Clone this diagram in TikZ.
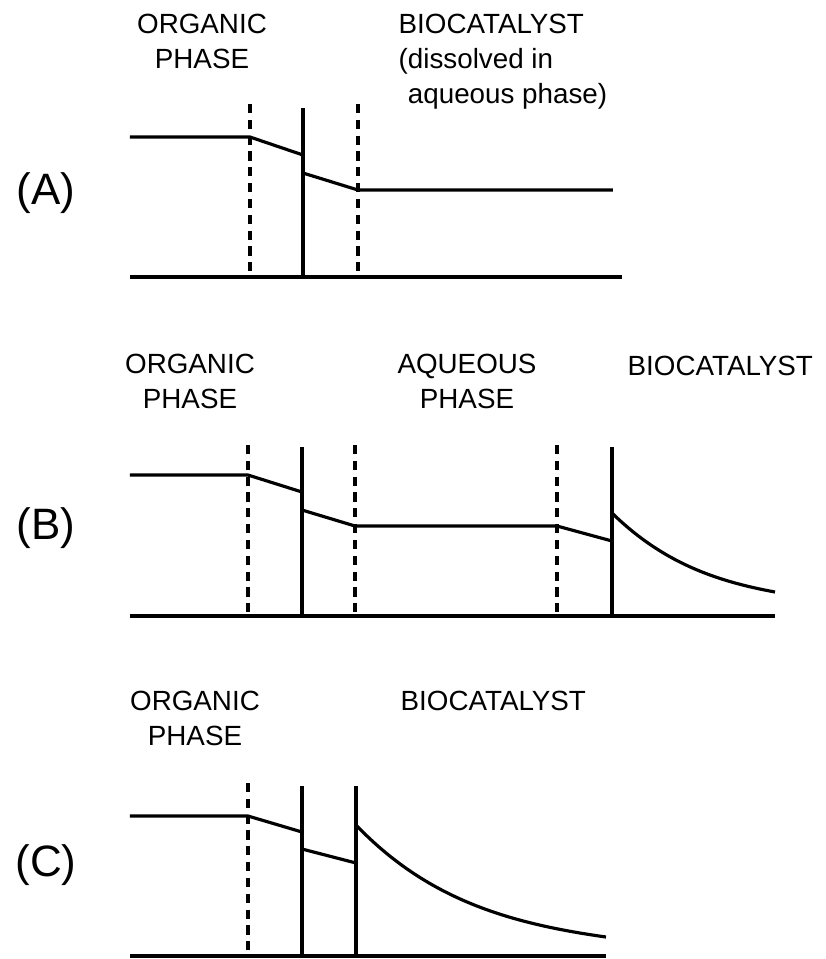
\documentclass[tikz,border=0pt]{standalone}
\usepackage{fontspec}
\setmainfont{Liberation Sans}

\begin{document}
\begin{tikzpicture}[
  x=0.01cm,
  y=-0.01cm,
  phase/.style={font=\fontsize{7.9}{10}\selectfont, inner sep=0pt},
  tag/.style={font=\fontsize{12.5}{15}\selectfont, inner sep=0pt},
  iface/.style={line width=1pt},
  film/.style={line width=0.95pt, dash pattern=on 2.6pt off 1.9pt},
  profile/.style={line width=0.9pt}
]
\useasboundingbox (0,0) rectangle (826,959);

\node[tag] (tagA) at (46,193) {(A)};
\node[phase, anchor=north, align=center] (orgA) at (202,13) {ORGANIC\\PHASE};
\node[phase, anchor=north west, align=left] (bioA) at (398,13) {BIOCATALYST\\(dissolved in\\\hphantom{(}aqueous phase)};
\draw[profile] (130,277) -- (622,277);
\draw[film] (250,104) -- (250,277);
\draw[iface] (303,108) -- (303,277);
\draw[film] (358,104) -- (358,277);
\draw[profile] (130,137) -- (250,137) -- (303,155);
\draw[profile] (303,173) -- (358,190) -- (613,190);

\node[tag] (tagB) at (46,528) {(B)};
\node[phase, anchor=north, align=center] (orgB) at (190,353) {ORGANIC\\PHASE};
\node[phase, anchor=north, align=center] (aqB) at (467,353) {AQUEOUS\\PHASE};
\node[phase, anchor=north west] (bioB) at (627,355) {BIOCATALYST};
\draw[profile] (130,616) -- (775,616);
\draw[film] (248,445) -- (248,616);
\draw[iface] (302,447) -- (302,616);
\draw[film] (355,445) -- (355,616);
\draw[film] (557,445) -- (557,616);
\draw[iface] (612,447) -- (612,616);
\draw[profile] (130,475) -- (248,475) -- (302,492);
\draw[profile] (302,510) -- (355,526) -- (557,526) -- (612,541);
\draw[profile] (612,513) .. controls (662,562) and (715,581) .. (775,592);

\node[tag] (tagC) at (46,865) {(C)};
\node[phase, anchor=north, align=center] (orgC) at (195,690) {ORGANIC\\PHASE};
\node[phase, anchor=north west] (bioC) at (400,690) {BIOCATALYST};
\draw[profile] (130,956) -- (606,956);
\draw[film] (248,783) -- (248,956);
\draw[iface] (302,786) -- (302,956);
\draw[iface] (356,786) -- (356,956);
\draw[profile] (130,816) -- (248,816) -- (302,832);
\draw[profile] (302,849) -- (356,863);
\draw[profile] (356,825) .. controls (426,898) and (506,923) .. (606,937);
\end{tikzpicture}
\end{document}
